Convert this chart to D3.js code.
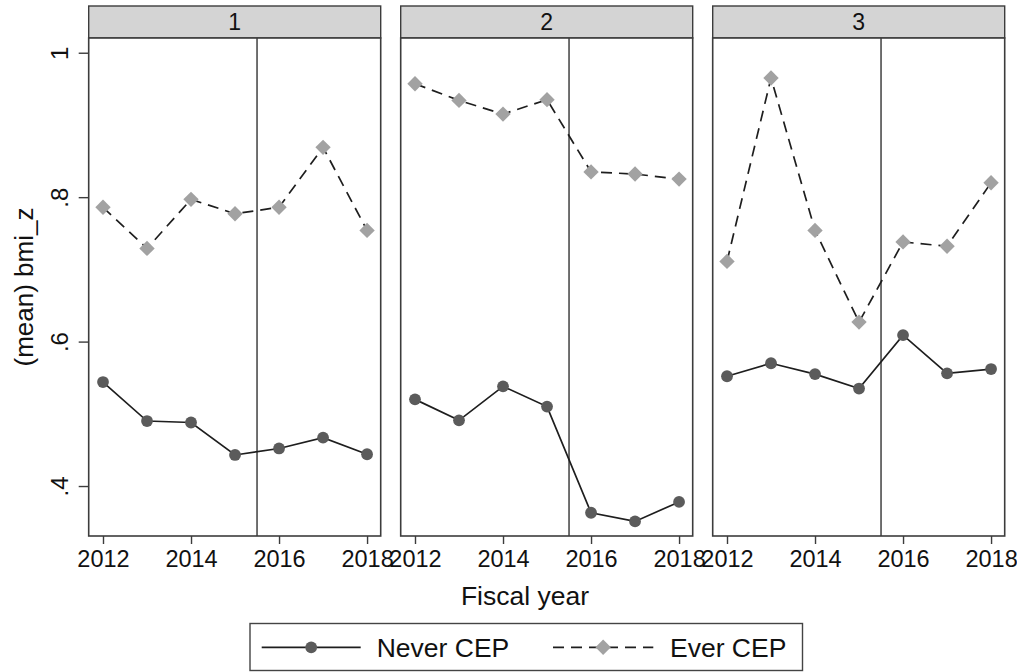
<!DOCTYPE html>
<html>
<head>
<meta charset="utf-8">
<script src="https://cdn.jsdelivr.net/npm/d3@7"></script>
<style>
  html, body { margin: 0; padding: 0; background: #ffffff; }
  svg { display: block; }
</style>
</head>
<body>
<svg id="chart" width="1017" height="672"></svg>
<script>
// Mean BMI z-score by fiscal year, one panel per group
const years = [2012, 2013, 2014, 2015, 2016, 2017, 2018];
const panelLabels = ["1", "2", "3"];

const neverCEP1 = [0.544, 0.490, 0.488, 0.443, 0.452, 0.467, 0.444];
const neverCEP2 = [0.520, 0.491, 0.538, 0.510, 0.363, 0.351, 0.378];
const neverCEP3 = [0.552, 0.570, 0.555, 0.535, 0.609, 0.556, 0.562];

const everCEP1 = [0.786, 0.729, 0.797, 0.777, 0.786, 0.869, 0.754];
const everCEP2 = [0.957, 0.934, 0.915, 0.935, 0.835, 0.832, 0.825];
const everCEP3 = [0.711, 0.965, 0.754, 0.627, 0.738, 0.732, 0.820];

const xTickValues = [2012, 2014, 2016, 2018];
const yTickValues = [0.4, 0.6, 0.8, 1];
const policyYear = 2015.5;

const seriesNames = ["Never CEP", "Ever CEP"];
const neverSeries = [neverCEP1, neverCEP2, neverCEP3];
const everSeries = [everCEP1, everCEP2, everCEP3];

// layout
const FONT = '"Liberation Sans", Arial, Helvetica, sans-serif';
const panelX0 = 88.7, panelStep = 312, panelW = 292;
const stripTop = 6, plotTop = 38, plotBottom = 536;

const lineColor = "#1e1e1e";
const circleColor = "#5b5b5b";
const diamondColor = "#a2a2a2";
const frameColor = "#3c3c3c";
const dash = "11,7";

const svg = d3.select("#chart").attr("font-family", FONT);

const x = d3.scaleLinear().domain([2011.675, 2018.31]).range([0, panelW]);
const y = d3.scaleLinear().domain([0.3308, 1.0204]).range([plotBottom, plotTop]);

const diamond = d3.symbol().type(d3.symbolSquare).size(118);

const lineGen = d3.line()
  .x((d, i) => x(years[i]))
  .y(d => y(d));

panelLabels.forEach((lab, p) => {
  const g = svg.append("g").attr("transform", `translate(${panelX0 + p * panelStep},0)`);

  // strip header
  g.append("rect")
    .attr("x", 0).attr("y", stripTop)
    .attr("width", panelW).attr("height", plotTop - stripTop)
    .attr("fill", "#d4d4d4")
    .attr("stroke", frameColor).attr("stroke-width", 1.4);
  g.append("text")
    .attr("x", panelW / 2).attr("y", (stripTop + plotTop) / 2 + 8.3)
    .attr("text-anchor", "middle")
    .attr("font-size", 23)
    .attr("fill", "#111")
    .text(lab);

  // plot region
  g.append("rect")
    .attr("x", 0).attr("y", plotTop)
    .attr("width", panelW).attr("height", plotBottom - plotTop)
    .attr("fill", "#ffffff");

  // reference line
  g.append("line")
    .attr("x1", x(policyYear)).attr("x2", x(policyYear))
    .attr("y1", plotTop).attr("y2", plotBottom)
    .attr("stroke", "#404040").attr("stroke-width", 1.5);

  // Never CEP
  g.append("path")
    .datum(neverSeries[p])
    .attr("d", lineGen)
    .attr("fill", "none")
    .attr("stroke", lineColor).attr("stroke-width", 1.7);
  g.selectAll("circle.never")
    .data(neverSeries[p])
    .join("circle")
    .attr("class", "never")
    .attr("cx", (d, i) => x(years[i]))
    .attr("cy", d => y(d))
    .attr("r", 5.9)
    .attr("fill", circleColor);

  // Ever CEP
  g.append("path")
    .datum(everSeries[p])
    .attr("d", lineGen)
    .attr("fill", "none")
    .attr("stroke", lineColor).attr("stroke-width", 1.7)
    .attr("stroke-dasharray", dash);
  g.selectAll("path.ever")
    .data(everSeries[p])
    .join("path")
    .attr("class", "ever")
    .attr("d", diamond)
    .attr("transform", (d, i) => `translate(${x(years[i])},${y(d)}) rotate(45)`)
    .attr("fill", diamondColor);

  // frame
  g.append("rect")
    .attr("x", 0).attr("y", plotTop)
    .attr("width", panelW).attr("height", plotBottom - plotTop)
    .attr("fill", "none")
    .attr("stroke", frameColor).attr("stroke-width", 1.6);

  // x axis
  const xa = g.append("g")
    .attr("transform", `translate(0,${plotBottom})`)
    .call(d3.axisBottom(x).tickValues(xTickValues).tickFormat(d3.format("d")).tickSize(8).tickSizeOuter(0))
    .attr("font-family", FONT);
  xa.select(".domain").remove();
  xa.selectAll(".tick line").attr("stroke", frameColor).attr("stroke-width", 1.4);
  xa.selectAll(".tick text")
    .attr("y", 30.5).attr("dy", 0)
    .attr("font-size", 23.5)
    .attr("fill", "#111");

  // y axis on the first panel only
  if (p === 0) {
    const ya = g.append("g")
      .call(d3.axisLeft(y).tickValues(yTickValues)
        .tickFormat(d => d === 1 ? "1" : d3.format(".1f")(d).replace(/^0/, ""))
        .tickSize(10).tickSizeOuter(0))
      .attr("font-family", FONT);
    ya.select(".domain").remove();
    ya.selectAll(".tick line").attr("stroke", frameColor).attr("stroke-width", 1.4);
    ya.selectAll(".tick text")
      .attr("transform", "rotate(-90)")
      .attr("x", 0).attr("y", -20.5).attr("dy", 0)
      .attr("text-anchor", "middle")
      .attr("font-size", 24)
      .attr("fill", "#111");
  }
});

// axis titles
svg.append("text")
  .attr("transform", `translate(33,${(plotTop + plotBottom) / 2}) rotate(-90)`)
  .attr("text-anchor", "middle")
  .attr("font-size", 26)
  .attr("fill", "#111")
  .text("(mean) bmi_z");

svg.append("text")
  .attr("x", 525).attr("y", 605)
  .attr("text-anchor", "middle")
  .attr("font-size", 26.5)
  .attr("fill", "#111")
  .text("Fiscal year");

// legend
const legend = svg.append("g");
legend.append("rect")
  .attr("x", 250).attr("y", 623.5)
  .attr("width", 552.5).attr("height", 47)
  .attr("fill", "#ffffff")
  .attr("stroke", "#444").attr("stroke-width", 1.4);

const legendItems = [
  { name: seriesNames[0], x0: 261.7, x1: 360.7, tx: 376.7, dashed: false },
  { name: seriesNames[1], x0: 553, x1: 653.3, tx: 670, dashed: true }
];
const ly = 647.3;
legendItems.forEach(it => {
  legend.append("line")
    .attr("x1", it.x0).attr("x2", it.x1)
    .attr("y1", ly).attr("y2", ly)
    .attr("stroke", lineColor).attr("stroke-width", 1.7)
    .attr("stroke-dasharray", it.dashed ? dash : null);
  const cx = (it.x0 + it.x1) / 2;
  if (it.dashed) {
    legend.append("path")
      .attr("d", diamond)
      .attr("transform", `translate(${cx},${ly}) rotate(45)`)
      .attr("fill", diamondColor);
  } else {
    legend.append("circle")
      .attr("cx", cx).attr("cy", ly).attr("r", 5.9)
      .attr("fill", circleColor);
  }
  legend.append("text")
    .attr("x", it.tx).attr("y", 656.5)
    .attr("font-size", 26.5)
    .attr("fill", "#111")
    .text(it.name);
});
</script>
</body>
</html>
